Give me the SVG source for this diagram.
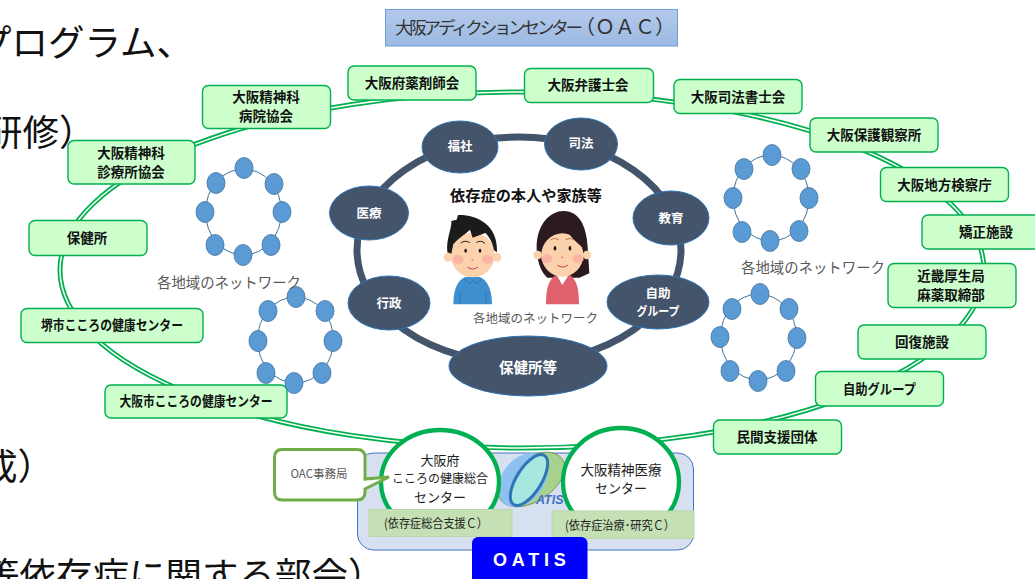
<svg xmlns="http://www.w3.org/2000/svg" width="1035" height="579" viewBox="0 0 1035 579">
<style>
text{font-family:"Noto Sans CJK JP","Noto Sans",sans-serif}
.bg{font-size:36.5px;fill:#111}
.box{fill:#CCFFCC;stroke:#00B050;stroke-width:1.4}
.bt{font-size:13.5px;font-weight:700;fill:#111;text-anchor:middle}
.dark{fill:#44546A;stroke:#2E75B6;stroke-width:1}
.dt{font-size:12.5px;font-weight:700;fill:#fff;text-anchor:middle}
.n{fill:#5B9BD5;stroke:#41719C;stroke-width:.8}
.rl{fill:none;stroke:#41719C;stroke-width:1}
.net{font-size:14.4px;fill:#595959}
.c{fill:#fff;stroke:#00B050;stroke-width:4.3}
.ct{font-size:13px;fill:#222;text-anchor:middle}
.lab{fill:#C5E0B4;stroke:#BBD6AA;stroke-width:1}
.lt{font-size:12.5px;fill:#222;text-anchor:middle}
.skin{fill:#FCD2AC}
.ch{fill:#F9B4A4}
.eye{fill:#1a1a1a}
.mo{fill:none;stroke:#C9355A;stroke-width:3;stroke-linecap:round}
.br{fill:none;stroke:#A87A4A;stroke-width:3;stroke-linecap:round}
</style>
<defs>
<linearGradient id="tg" x1="0" y1="0" x2="0" y2="1"><stop offset="0" stop-color="#B3C9EA"/><stop offset="1" stop-color="#9BBAE3"/></linearGradient>
</defs>
<rect width="1035" height="579" fill="#fff"/>
<g id="background-text">
<text class="bg" x="-25" y="56">プログラム、</text>
<text class="bg" x="-14" y="146">研修）</text>
<text class="bg" x="-19" y="480">成）</text>
<text class="bg" x="-17" y="589">等依存症に関する部会）</text>
</g>
<g id="connectors">
<ellipse cx="522" cy="270" rx="462" ry="178" fill="none" stroke="#00B050" stroke-width="5"/>
<ellipse cx="522" cy="270" rx="462" ry="178" fill="none" stroke="#fff" stroke-width="1.5"/>
<ellipse cx="519" cy="250" rx="162" ry="113" fill="none" stroke="#44546A" stroke-width="7"/>
</g>
<g id="title"><rect x="385.500" y="9.500" width="292" height="36.500" fill="url(#tg)" stroke="#6C9FD6"/>
<text y="34" fill="#333"><tspan x="395" font-size="17.500" textLength="188">大阪アディクションセンター</tspan><tspan x="575" font-size="20">（ＯＡＣ）</tspan></text></g>

<g id="n-byoin"><rect class="box" x="202.500" y="85.500" width="128" height="43" rx="6"/><text class="bt" x="266" y="102">大阪精神科</text><text class="bt" x="266" y="121">病院協会</text></g>
<g id="n-shinryo"><rect class="box" x="68" y="140.500" width="127" height="43.500" rx="6"/><text class="bt" x="131" y="158">大阪精神科</text><text class="bt" x="131" y="177">診療所協会</text></g>
<g id="n-hokenjo"><rect class="box" x="29" y="220.500" width="118" height="35" rx="6"/><text class="bt" x="87" y="243">保健所</text></g>
<g id="n-sakai"><rect class="box" x="21" y="308.500" width="182" height="34" rx="6"/><text class="bt" x="112" y="330" textLength="142" lengthAdjust="spacingAndGlyphs">堺市こころの健康センター</text></g>
<g id="n-osakashi"><rect class="box" x="105" y="385" width="182" height="33" rx="6"/><text class="bt" x="196" y="406" textLength="153" lengthAdjust="spacingAndGlyphs">大阪市こころの健康センター</text></g>
<g id="n-yakuzai"><rect class="box" x="348" y="66" width="128" height="34" rx="6"/><text class="bt" x="412" y="88">大阪府薬剤師会</text></g>
<g id="n-bengo"><rect class="box" x="524.500" y="68.500" width="129" height="34" rx="6"/><text class="bt" x="588" y="90">大阪弁護士会</text></g>
<g id="n-shiho"><rect class="box" x="674" y="79.500" width="128" height="34" rx="6"/><text class="bt" x="738" y="102">大阪司法書士会</text></g>
<g id="n-hogo"><rect class="box" x="810" y="118" width="128" height="34" rx="6"/><text class="bt" x="874" y="140">大阪保護観察所</text></g>
<g id="n-kensatsu"><rect class="box" x="880.500" y="167.500" width="128" height="34" rx="6"/><text class="bt" x="944.500" y="190">大阪地方検察庁</text></g>
<g id="n-kyosei"><rect class="box" x="922" y="215" width="128" height="34" rx="6"/><text class="bt" x="986" y="237">矯正施設</text></g>
<g id="n-kinki"><rect class="box" x="888" y="263.500" width="128" height="44" rx="6"/><text class="bt" x="951" y="281">近畿厚生局</text><text class="bt" x="951" y="300">麻薬取締部</text></g>
<g id="n-kaifuku"><rect class="box" x="858" y="325" width="128" height="34" rx="6"/><text class="bt" x="922" y="347">回復施設</text></g>
<g id="n-jijo"><rect class="box" x="815.500" y="371.500" width="128" height="34.500" rx="6"/><text class="bt" x="879.500" y="394" textLength="73" lengthAdjust="spacingAndGlyphs">自助グループ</text></g>
<g id="n-minkan"><rect class="box" x="713.500" y="420" width="128" height="34" rx="6"/><text class="bt" x="777" y="442">民間支援団体</text></g>

<g id="ring1"><ellipse class="rl" cx="243.500" cy="212" rx="38" ry="43"/>
<ellipse class="n" cx="244" cy="168" rx="9" ry="10.500"/><ellipse class="n" cx="216" cy="183" rx="9" ry="10.500"/><ellipse class="n" cx="274" cy="184" rx="9" ry="10.500"/><ellipse class="n" cx="205" cy="212" rx="9" ry="10.500"/><ellipse class="n" cx="282" cy="212" rx="9" ry="10.500"/><ellipse class="n" cx="215" cy="245" rx="9" ry="10.500"/><ellipse class="n" cx="271" cy="245" rx="9" ry="10.500"/><ellipse class="n" cx="243" cy="255" rx="9" ry="10.500"/></g>
<g id="ring2"><ellipse class="rl" cx="295.500" cy="340" rx="38" ry="43"/>
<ellipse class="n" cx="296" cy="297" rx="9" ry="10.500"/><ellipse class="n" cx="268" cy="311" rx="9" ry="10.500"/><ellipse class="n" cx="325" cy="311" rx="9" ry="10.500"/><ellipse class="n" cx="258" cy="341" rx="9" ry="10.500"/><ellipse class="n" cx="333" cy="341" rx="9" ry="10.500"/><ellipse class="n" cx="266" cy="373" rx="9" ry="10.500"/><ellipse class="n" cx="322" cy="373" rx="9" ry="10.500"/><ellipse class="n" cx="294" cy="383" rx="9" ry="10.500"/></g>
<g id="ring3"><ellipse class="rl" cx="771" cy="198" rx="38" ry="43"/>
<ellipse class="n" cx="772" cy="155" rx="9" ry="10.500"/><ellipse class="n" cx="744" cy="169" rx="9" ry="10.500"/><ellipse class="n" cx="801" cy="169" rx="9" ry="10.500"/><ellipse class="n" cx="733" cy="198" rx="9" ry="10.500"/><ellipse class="n" cx="809" cy="198" rx="9" ry="10.500"/><ellipse class="n" cx="742" cy="232" rx="9" ry="10.500"/><ellipse class="n" cx="799" cy="231" rx="9" ry="10.500"/><ellipse class="n" cx="770" cy="241" rx="9" ry="10.500"/></g>
<g id="ring4"><ellipse class="rl" cx="758.500" cy="337" rx="38" ry="43"/>
<ellipse class="n" cx="760" cy="294" rx="9" ry="10.500"/><ellipse class="n" cx="732" cy="309" rx="9" ry="10.500"/><ellipse class="n" cx="789" cy="309" rx="9" ry="10.500"/><ellipse class="n" cx="720" cy="337" rx="9" ry="10.500"/><ellipse class="n" cx="797" cy="338" rx="9" ry="10.500"/><ellipse class="n" cx="730" cy="371" rx="9" ry="10.500"/><ellipse class="n" cx="786" cy="371" rx="9" ry="10.500"/><ellipse class="n" cx="758" cy="381" rx="9" ry="10.500"/></g>
<text class="net" x="157" y="288">各地域のネットワーク</text>
<text class="net" x="741" y="273">各地域のネットワーク</text>
<text class="net" x="473" y="323" style="font-size:12.500px">各地域のネットワーク</text>

<g id="n-fukushi"><ellipse class="dark" cx="460" cy="147" rx="38" ry="26"/><text class="dt" x="460" y="151">福社</text></g>
<g id="n-shihou"><ellipse class="dark" cx="581" cy="144" rx="36.500" ry="26"/><text class="dt" x="581" y="148">司法</text></g>
<g id="n-iryo"><ellipse class="dark" cx="369" cy="213" rx="39.500" ry="27"/><text class="dt" x="369" y="218">医療</text></g>
<g id="n-kyoiku"><ellipse class="dark" cx="671" cy="218" rx="38" ry="27"/><text class="dt" x="671" y="223">教育</text></g>
<g id="n-gyosei"><ellipse class="dark" cx="389" cy="303" rx="41" ry="27"/><text class="dt" x="389" y="308">行政</text></g>
<g id="n-jijo2"><ellipse class="dark" cx="658" cy="302" rx="51" ry="27"/><text class="dt" x="658" y="298">自助</text><text class="dt" x="658" y="316" textLength="43" lengthAdjust="spacingAndGlyphs">グループ</text></g>
<g id="n-hoken"><ellipse class="dark" cx="528" cy="366" rx="79" ry="30"/><text class="dt" x="528" y="373" style="font-size:14.500px">保健所等</text></g>
<text x="526" y="201" font-size="15.200" font-weight="700" fill="#111" text-anchor="middle">依存症の本人や家族等</text>

<g id="people" transform="translate(430 205) scale(.3333)">
<path d="M70 298C70 250 85 225 105 216L150 216C170 225 186 250 186 298Z" fill="#3E8FD0"/>
<path d="M102 222L118 236L128 226L140 236L156 222M90 262V296M168 262V296" fill="none" stroke="#2A6FA8" stroke-width="2.500"/>
<circle class="skin" cx="54" cy="157" r="13"/><circle class="skin" cx="201" cy="157" r="13"/>
<ellipse class="skin" cx="128" cy="150" rx="66" ry="67"/>
<path d="M52 142C48 100 66 70 64 48L80 44L84 30C135 28 205 55 201 142L192 136C188 112 178 96 166 84L128 98L120 74C100 92 80 104 70 118L64 146Z" fill="#1B1B1B"/>
<ellipse class="ch" cx="84" cy="163" rx="17" ry="13"/><ellipse class="ch" cx="172" cy="163" rx="17" ry="13"/>
<path class="br" d="M93 114Q105 104 118 112M140 112Q152 104 164 114" style="stroke:#1B1B1B"/>
<ellipse class="eye" cx="107" cy="137" rx="4" ry="6"/><ellipse class="eye" cx="150" cy="137" rx="4" ry="6"/>
<circle cx="127" cy="165" r="2.500" fill="#D9607A"/><path class="mo" d="M113 187Q128 198 143 187"/>
<path d="M320 132C318 60 360 18 400 18C452 18 472 70 474 140L478 205L448 218L352 218C332 200 322 170 320 132Z" fill="#2B1A21"/>
<path d="M348 298C348 250 355 225 378 210L420 210C440 225 447 250 447 298Z" fill="#E0606E"/>
<path d="M380 210L397 240L416 210Z" fill="#fff"/>
<circle class="skin" cx="323" cy="150" r="13"/><circle class="skin" cx="471" cy="150" r="13"/>
<ellipse class="skin" cx="397" cy="150" rx="63" ry="65"/>
<path d="M330 138C338 102 372 90 405 66C416 92 445 118 464 132C462 70 432 32 395 32C354 32 332 80 330 138Z" fill="#2B1A21"/>
<ellipse class="ch" cx="351" cy="161" rx="17" ry="13"/><ellipse class="ch" cx="444" cy="161" rx="17" ry="13"/>
<path class="br" d="M362 105Q374 96 386 104M408 104Q420 96 432 105"/>
<ellipse class="eye" cx="375" cy="130" rx="4" ry="7"/><ellipse class="eye" cx="420" cy="130" rx="4" ry="7"/>
<circle cx="397" cy="157" r="2.500" fill="#D9607A"/><path class="mo" d="M383 181Q398 192 413 181"/>
</g>

<g id="panel"><rect x="357.500" y="453" width="336" height="97" rx="16" fill="#D7E0F1" stroke="#4472C4" stroke-width="1"/></g>
<g id="atis">
<ellipse cx="531.500" cy="479.500" rx="37" ry="22" transform="rotate(-33 531.500 479.500)" fill="#A9D18E" stroke="#70934F" stroke-width=".8"/>
<ellipse cx="523" cy="480" rx="30" ry="21" transform="rotate(-52 523 480)" fill="#8FC1F0"/>
<ellipse cx="529" cy="480" rx="29" ry="12.500" transform="rotate(-58 529 480)" fill="#A8E6E0" stroke="#2E75B6" stroke-width="3"/>
</g>
<g id="n-kokoro"><ellipse class="c" cx="440" cy="482" rx="59" ry="52"/><text class="ct" x="440" y="465">大阪府</text><text class="ct" x="440" y="483" style="font-size:12px">こころの健康総合</text><text class="ct" x="440" y="502">センター</text></g>
<g id="n-seishin"><ellipse class="c" cx="621" cy="482" rx="58" ry="54"/><text class="ct" x="621" y="475" style="font-size:13.500px">大阪精神医療</text><text class="ct" x="621" y="493">センター</text></g>
<text id="atis-label" x="536" y="504" font-size="12.500" font-weight="700" font-style="italic" fill="#4472C4" style="font-family:'Liberation Sans',sans-serif">ATIS</text>
<g id="labels"><rect class="lab" x="369" y="509.500" width="143" height="27"/><text class="lt" x="436" y="528" textLength="104" lengthAdjust="spacingAndGlyphs">(依存症総合支援Ｃ）</text>
<rect class="lab" x="552" y="511" width="142" height="27.500"/><text class="lt" x="620" y="530" textLength="110" lengthAdjust="spacingAndGlyphs">(依存症治療･研究Ｃ）</text></g>
<g id="n-oac"><path d="M282 449.500H357Q365 449.500 365 457.500V479L389 477L365 489V492Q365 500 357 500H282Q274.500 500 274.500 492V457.500Q274.500 449.500 282 449.500Z" fill="#fff" stroke="#70AD47" stroke-width="3"/><text x="319" y="478" font-size="11.500" fill="#595959" text-anchor="middle">OAC事務局</text></g>
<g id="n-oatis"><rect x="472" y="537" width="115.500" height="50" rx="6" fill="#0000FF"/><text x="493" y="566" font-size="18" font-weight="700" fill="#fff" letter-spacing="4.750" style="font-family:'Liberation Sans',sans-serif">OATIS</text></g>
</svg>
